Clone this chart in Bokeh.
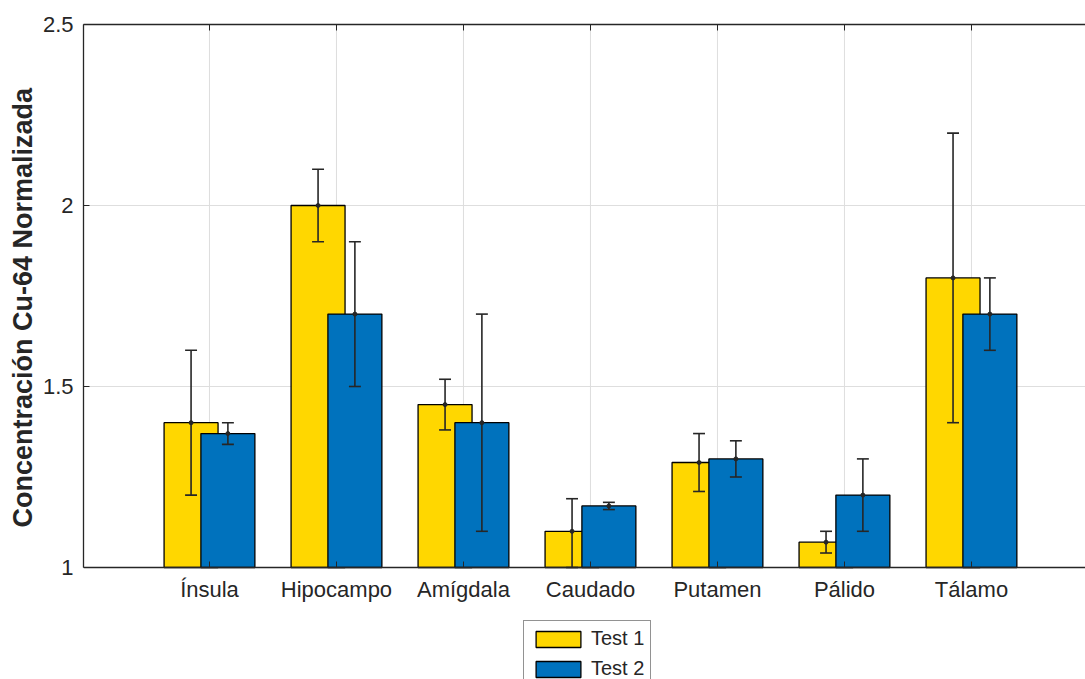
from bokeh.plotting import figure
from bokeh.models import (ColumnDataSource, Range1d, FixedTicker, LinearAxis,
                          Legend, LegendItem, Title)
from bokeh.embed import file_html
from bokeh.resources import INLINE

# ---- data ----
regions = ["Ínsula", "Hipocampo", "Amígdala", "Caudado", "Putamen", "Pálido", "Tálamo"]
test1 = [1.40, 2.00, 1.45, 1.10, 1.29, 1.07, 1.80]
test1_hi = [1.60, 2.10, 1.52, 1.19, 1.37, 1.10, 2.20]
test1_lo = [1.20, 1.90, 1.38, 1.00, 1.21, 1.04, 1.40]
test2 = [1.37, 1.70, 1.40, 1.17, 1.30, 1.20, 1.70]
test2_hi = [1.40, 1.90, 1.70, 1.18, 1.35, 1.30, 1.80]
test2_lo = [1.34, 1.50, 1.10, 1.16, 1.25, 1.10, 1.60]
series_names = ["Test 1", "Test 2"]
y_ticks = [1, 1.5, 2, 2.5]
y_min, y_max = 1, 2.5
y_title = "Concentración Cu-64 Normalizada"

FONT = "Liberation Sans"
AX = "#262626"
GRID = "#dedede"
YELLOW = "#FFD700"
BLUE = "#0072BD"
OFF = 0.145
BW = 0.425
CAP = 0.047

pos = list(range(1, len(regions) + 1))

# frame spans to the bottom of the page; the x axis is pinned at y = 1
p = figure(width=1085, height=679, output_backend="svg", toolbar_location=None,
           x_range=Range1d(0.008, 7.898), y_range=Range1d(0.6906, y_max),
           min_border_left=83, min_border_right=0, min_border_top=24,
           min_border_bottom=0)
p.outline_line_color = None
p.background_fill_color = "white"

# grids
p.xgrid.visible = False
p.ygrid.ticker = FixedTicker(ticks=y_ticks)
p.ygrid.grid_line_color = GRID
p.ygrid.grid_line_width = 1
p.segment(x0=pos, x1=pos, y0=[y_min] * len(pos), y1=[y_max] * len(pos),
          line_color=GRID, line_width=1)

# axes
xa = p.xaxis[0]
xa.ticker = FixedTicker(ticks=pos)
xa.major_label_overrides = {i: r for i, r in zip(pos, regions)}
xa.fixed_location = y_min
ya = p.yaxis[0]
ya.ticker = FixedTicker(ticks=y_ticks)
ya.bounds = (y_min, y_max)
ya.major_label_overrides = {1: "1", 1.5: "1.5", 2: "2", 2.5: "2.5"}
for a in (xa, ya):
    a.axis_line_color = AX
    a.axis_line_width = 1.3
    a.major_tick_in = 6
    a.major_tick_out = 0
    a.major_tick_line_color = AX
    a.minor_tick_line_color = None
    a.major_label_text_font = FONT
    a.major_label_text_font_size = "22px"
    a.major_label_text_color = AX
    a.major_label_standoff = 10

top = LinearAxis(ticker=FixedTicker(ticks=pos),
                 major_label_overrides={i: "" for i in pos},
                 axis_line_color=AX, axis_line_width=1.3,
                 major_tick_in=6, major_tick_out=0, major_tick_line_color=AX,
                 minor_tick_line_color=None, major_label_text_font_size="1px")
p.add_layout(top, "above")

# y-axis title (placed over the 1..2.5 span)
yt = Title(text=y_title, align="left", offset=152, standoff=4,
           text_font=FONT, text_font_style="bold", text_font_size="27px",
           text_color=AX)
p.add_layout(yt, "left")

# bars
x1 = [x - OFF for x in pos]
x2 = [x + OFF for x in pos]
s1 = ColumnDataSource(dict(x=x1, top=test1, hi=test1_hi, lo=test1_lo,
                           cl=[x - CAP for x in x1], cr=[x + CAP for x in x1]))
s2 = ColumnDataSource(dict(x=x2, top=test2, hi=test2_hi, lo=test2_lo,
                           cl=[x - CAP for x in x2], cr=[x + CAP for x in x2]))

r1 = p.vbar(x="x", top="top", bottom=y_min, width=BW, source=s1,
            fill_color=YELLOW, line_color="black", line_width=1.3)
r2 = p.vbar(x="x", top="top", bottom=y_min, width=BW, source=s2,
            fill_color=BLUE, line_color="black", line_width=1.3)

for s in (s1, s2):
    p.segment(x0="x", x1="x", y0="lo", y1="hi", source=s, line_color=AX, line_width=1.6)
    p.segment(x0="cl", x1="cr", y0="hi", y1="hi", source=s, line_color=AX, line_width=1.6)
    p.segment(x0="cl", x1="cr", y0="lo", y1="lo", source=s, line_color=AX, line_width=1.6)
    p.scatter(x="x", y="top", source=s, size=4, color=AX)

legend = Legend(items=[LegendItem(label=series_names[0], renderers=[r1]),
                       LegendItem(label=series_names[1], renderers=[r2])],
                location=(440, -8))
legend.glyph_width = 56
legend.glyph_height = 20
legend.label_height = 20
legend.spacing = 7
legend.padding = 6
legend.margin = 0
legend.label_standoff = 5
legend.label_text_font = FONT
legend.label_text_font_size = "20px"
legend.label_text_color = AX
legend.border_line_color = AX
legend.border_line_width = 1.3
legend.background_fill_color = "white"
legend.background_fill_alpha = 1
p.add_layout(legend, "center")

open("out.html", "w").write(file_html(p, INLINE))
